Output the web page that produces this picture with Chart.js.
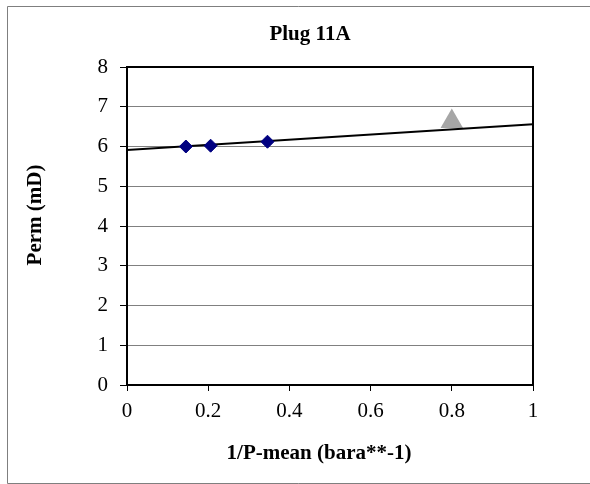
<!DOCTYPE html>
<html>
<head>
<meta charset="utf-8">
<script src="https://cdn.jsdelivr.net/npm/chart.js@4"></script>
<style>
  html, body { margin: 0; padding: 0; background: #fff; }
  #wrap { width: 590px; height: 484px; }
</style>
</head>
<body>
<div id="wrap"><canvas id="plug" width="590" height="484"></canvas></div>
<script>
// measured points (1/P-mean vs perm)
const invPressure = [0.145, 0.206, 0.346];
const permValues = [6.0, 6.02, 6.12];

// the grey triangle point
const extraX = [0.8];
const extraY = [6.63];

// linear trend through the measured points
const trendX = [0, 1];
const trendY = [5.91, 6.56];

const xTicks = [0, 0.2, 0.4, 0.6, 0.8, 1];
const yTicks = [0, 1, 2, 3, 4, 5, 6, 7, 8];

const xTitle = "1/P-mean (bara**-1)";
const yTitle = "Perm (mD)";

const serif = "'Liberation Serif', 'Times New Roman', serif";
const titleFont = "bold 21px " + serif;

const toPoints = (xs, ys) => xs.map((x, i) => ({ x: x, y: ys[i] }));

// white page, grey frame, black box round the plot, axis titles
const frame = {
  id: "frame",
  beforeDraw(chart) {
    const ctx = chart.ctx;
    ctx.save();
    ctx.fillStyle = "#fff";
    ctx.fillRect(0, 0, chart.width, chart.height);
    ctx.strokeStyle = "#7f7f7f";
    ctx.lineWidth = 1;
    ctx.beginPath();
    ctx.moveTo(chart.width, 6.5);
    ctx.lineTo(7.5, 6.5);
    ctx.lineTo(7.5, 483.5);
    ctx.lineTo(chart.width, 483.5);
    ctx.stroke();
    ctx.restore();
  },
  beforeDatasetsDraw(chart) {
    const a = chart.chartArea;
    const ctx = chart.ctx;
    ctx.save();
    ctx.strokeStyle = "#000";
    ctx.lineWidth = 2;
    ctx.strokeRect(a.left, a.top, a.right - a.left, a.bottom - a.top);
    ctx.restore();
  },
  afterDraw(chart) {
    const a = chart.chartArea;
    const ctx = chart.ctx;
    ctx.save();
    ctx.fillStyle = "#000";
    ctx.font = titleFont;
    ctx.textAlign = "center";
    ctx.textBaseline = "middle";
    ctx.fillText(xTitle, (a.left + a.right) / 2 - 11, 454);
    ctx.translate(36, (a.top + a.bottom) / 2 - 11);
    ctx.rotate(-Math.PI / 2);
    ctx.fillText(yTitle, 0, 0);
    ctx.restore();
  },
};

new Chart(document.getElementById("plug"), {
  type: "scatter",
  data: {
    datasets: [
      {
        label: "Perm",
        data: toPoints(invPressure, permValues),
        pointStyle: "rectRot",
        pointRadius: 6.5,
        pointBackgroundColor: "#000080",
        pointBorderColor: "#000080",
        pointBorderWidth: 1,
        order: 0,
      },
      {
        label: "Trend",
        data: toPoints(trendX, trendY),
        showLine: true,
        borderColor: "#000",
        borderWidth: 2,
        pointRadius: 0,
        order: 1,
      },
      {
        label: "Extra",
        data: toPoints(extraX, extraY),
        pointStyle: "triangle",
        pointRadius: 13,
        pointBackgroundColor: "#a6a6a6",
        pointBorderColor: "#a6a6a6",
        pointBorderWidth: 0,
        order: 2,
      },
    ],
  },
  options: {
    responsive: false,
    animation: false,
    layout: {
      padding: { left: 30, right: 0, top: 0, bottom: 0 },
    },
    plugins: {
      legend: { display: false },
      tooltip: { enabled: false },
      title: {
        display: true,
        text: "Plug 11A",
        color: "#000",
        font: { family: serif, size: 21, weight: "bold" },
        padding: { top: 22, bottom: 19.8 },
      },
    },
    scales: {
      x: {
        type: "linear",
        min: 0,
        max: 1,
        afterBuildTicks: (scale) => {
          scale.ticks = xTicks.map((v) => ({ value: v }));
        },
        afterFit: (scale) => {
          scale.height = 99;
        },
        ticks: {
          color: "#000",
          font: { family: serif, size: 21 },
          padding: 8,
          maxRotation: 0,
          callback: (v) => String(v),
        },
        grid: {
          drawOnChartArea: false,
          drawTicks: true,
          tickLength: 6,
          tickColor: "#000",
        },
        border: { color: "#000", width: 2 },
      },
      y: {
        type: "linear",
        min: 0,
        max: 8,
        afterBuildTicks: (scale) => {
          scale.ticks = yTicks.map((v) => ({ value: v }));
        },
        afterFit: (scale) => {
          scale.width = 97;
        },
        ticks: {
          color: "#000",
          font: { family: serif, size: 21 },
          padding: 12,
          callback: (v) => String(v),
        },
        grid: {
          color: "#808080",
          lineWidth: 1,
          drawTicks: true,
          tickLength: 7,
          tickColor: "#000",
        },
        border: { color: "#000", width: 2 },
      },
      // empty strip on the right of the plot
      side: {
        type: "linear",
        position: "right",
        display: true,
        afterFit: (scale) => {
          scale.width = 57;
        },
        ticks: { display: false },
        grid: { display: false },
        border: { display: false },
      },
    },
  },
  plugins: [frame],
});
</script>
</body>
</html>
